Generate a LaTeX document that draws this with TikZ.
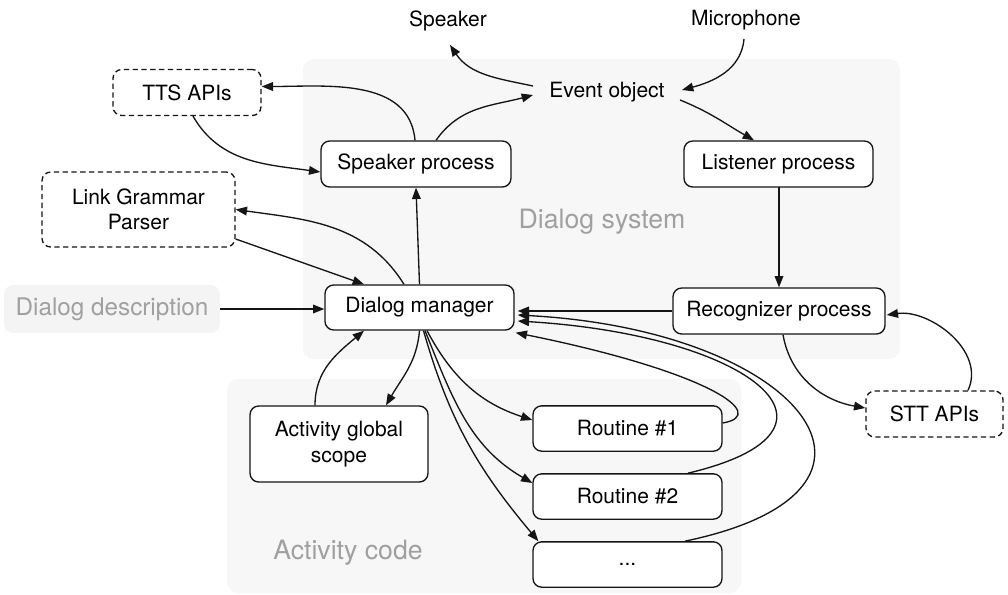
\documentclass[tikz,border=0pt]{standalone}
\usepackage{fontspec}
\setmainfont{TeX Gyre Heros}
\usetikzlibrary{arrows.meta,calc}
\definecolor{bgc}{HTML}{F7F7F7}
\definecolor{ddc}{HTML}{F4F4F4}
\definecolor{gtc}{HTML}{A0A0A0}
\definecolor{ln}{HTML}{151515}
\newcommand{\fsbox}{\fontsize{15.75}{19}\selectfont}
\newcommand{\fsbig}{\fontsize{20}{24}\selectfont}
\newcommand{\fsdd}{\fontsize{18.2}{22}\selectfont}
\begin{document}
\begin{tikzpicture}[x=0.75pt,y=0.75pt,
  box/.style={draw=ln, line width=1pt, rounded corners=6.5pt, fill=white, align=center, font=\fsbox, inner sep=0pt, minimum width=141.75pt, minimum height=34pt},
  dbox/.style={box, dash pattern=on 4pt off 2.6pt},
  lbl/.style={inner sep=0pt, font=\fsbox},
  arr/.style={-{Triangle[length=8.5pt,width=6.5pt]}, line width=1pt, draw=ln},
  bgbox/.style={fill=bgc, rounded corners=8pt, draw=none},
  glbl/.style={text=gtc, font=\fsbig, inner sep=0pt}]
\useasboundingbox (0,0) rectangle (1008,-594);
% backgrounds
\path[bgbox] (303,-59) rectangle (900,-359);
\path[bgbox] (227,-379) rectangle (741,-593);
\node[glbl] (dsl) at (602,-222) {Dialog system};
\node[glbl] (acl) at (348,-553) {Activity code};
% nodes
\node[lbl] (spk) at (448,-21) {Speaker};
\node[lbl] (mic) at (746,-20) {Microphone};
\node[lbl] (ev) at (607,-92) {Event object};
\node[dbox, minimum width=111pt, minimum height=34.5pt] (tts) at (187,-92.5) {TTS APIs};
\node[box, minimum width=142.5pt, minimum height=34.5pt] (sp) at (416,-164) {Speaker process};
\node[box, minimum width=141.75pt, minimum height=34.5pt] (ls) at (778.5,-164) {Listener process};
\node[dbox, minimum width=144.75pt, minimum height=56.25pt] (lgp) at (138.5,-209.5) {Link Grammar\\Parser};
\node[fill=ddc, rounded corners=7pt, text=gtc, font=\fsdd, inner sep=0pt, minimum width=162pt, minimum height=36pt] (dd) at (112,-309) {Dialog description};
\node[box, minimum width=141.75pt, minimum height=33.75pt] (dm) at (419.5,-307.5) {Dialog manager};
\node[box, minimum width=159pt, minimum height=34.5pt] (rec) at (779,-311) {Recognizer process};
\node[dbox, minimum width=102.75pt, minimum height=34.5pt] (stt) at (934.5,-414) {STT APIs};
\node[box, minimum width=133.5pt, minimum height=57pt] (ags) at (339,-444) {Activity global\\scope};
\node[box] (r1) at (627.5,-428.5) {Routine \#1};
\node[box] (r2) at (627.5,-496.5) {Routine \#2};
\node[box] (rd) at (627.5,-564.5) {...};
% connectors
\draw[arr] ($(ev.center)+(-74,6)$) to[out=168,in=-56] ($(spk.center)+(2,-24)$);
\draw[arr] ($(mic.center)+(-2,-19)$) to[out=-95,in=15] ($(ev.center)+(75,2)$);
\draw[arr] ($(sp.north)+(20,0)$) to[out=55,in=-165] ($(ev.center)+(-74,-3)$);
\draw[arr] ($(ev.center)+(73,-8)$) to[out=-22,in=150] ($(ls.north)+(-24.5,0)$);
\draw[arr] ($(sp.north)+(-1,0)$) to[out=95,in=0] ($(tts.east)+(0,6)$);
\draw[arr] ($(tts.south)+(6,0)$) to[out=-60,in=172] ($(sp.west)+(0,-8)$);
\draw[arr] (ls.south) -- (ls.south -| rec.north) -- (rec.north);
\draw[arr] (rec.west) -- ($(rec.west -| dm.east)+(3,0)$);
\draw[arr] ($(rec.south)+(4,0)$) to[out=-80,in=170] ($(stt.west)+(0,6)$);
\draw[arr] ($(stt.north)+(33.5,0)$) to[out=65,in=8] ($(rec.east)+(1,-4)$);
\draw[arr] (dm.north) -- (sp.south);
\draw[arr] ($(dm.north)+(-15.5,0)$) to[out=122,in=-8] (lgp.east);
\draw[arr] ($(lgp.east)+(0,-29.5)$) -- ($(dm.north)+(-55.5,0)$);
\draw[arr] (dd.east) -- (dd.east -| dm.west);
\draw[arr] ($(ags.north)+(-24,0)$) to[out=90,in=-140] ($(dm.south)+(-55.5,0)$);
\draw[arr] (dm.south) to[out=-95,in=60] ($(ags.north)+(47,0)$);
\draw[arr] ($(dm.south)+(7.5,0)$) to[out=-62,in=162] ($(r1.west)+(0,8.5)$);
\draw[arr] ($(dm.south)+(5.5,0)$) to[out=-68,in=150] ($(r2.west)+(0,13.5)$);
\draw[arr] ($(dm.south)+(4,0)$) to[out=-74,in=130] ($(rd.north west)+(6,0)$);
\draw[arr] ($(r1.east)+(0,5.5)$) .. controls (770,-415) and (710,-372) .. ($(dm.south east)+(1,-2)$);
\draw[arr] ($(r2.north)+(60.5,0)$) .. controls (870,-430) and (750,-335) .. ($(dm.east)+(3,-13.5)$);
\draw[arr] ($(rd.north)+(57.5,0)$) .. controls (930,-490) and (800,-330) .. ($(dm.east)+(3,-7.5)$);
\end{tikzpicture}
\end{document}
